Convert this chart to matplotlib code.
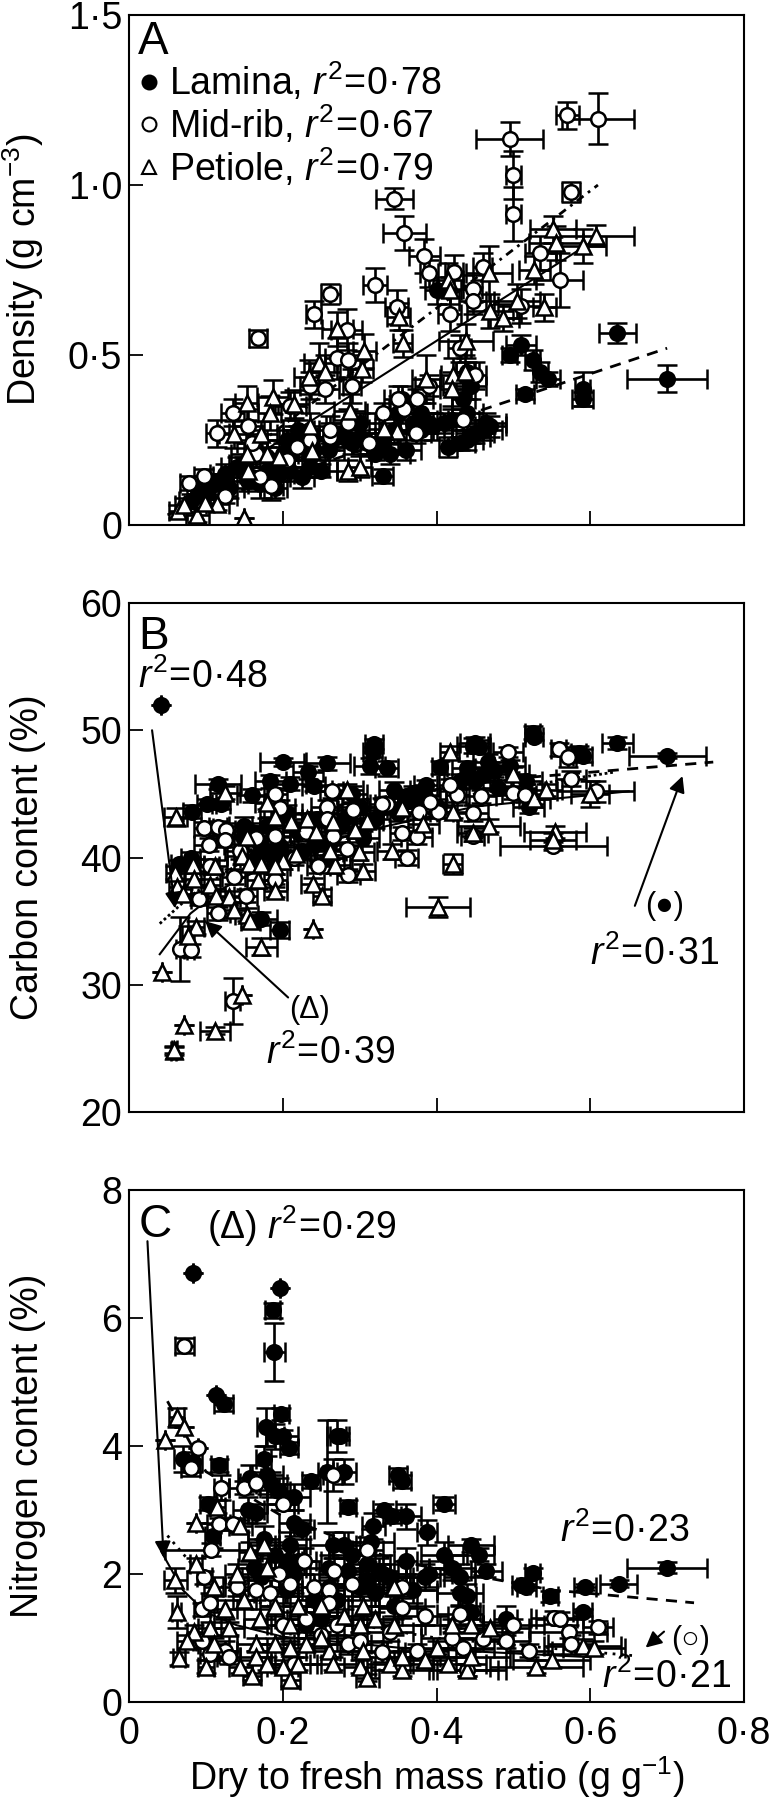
import matplotlib
matplotlib.use('Agg')
import matplotlib.pyplot as plt

plt.rcParams['font.family'] = ['Liberation Sans', 'DejaVu Sans']
plt.rcParams['mathtext.fontset'] = 'custom'
plt.rcParams['mathtext.rm'] = 'Liberation Sans'
plt.rcParams['mathtext.it'] = 'Liberation Sans:italic'

# panel A
a_lam_x = [.700,.635,.590,.590,.545,.535,.525,.510,.495,.515,
           .330,.080,.090,.100,.110,.120,.125,.140,.150,.155,
           .170,.180,.190,.195,.210,.225,.235,.250,.205,.215,
           .220,.235,.270,.280,.290,.300,.320,.340,.360,.345,
           .350,.355,.380,.390,.395,.410,.420,.415,.430,.440,
           .445,.450,.460,.465,.470,.440,.435,.445,.440,.400,
           .130,.160,.180,.200,.220,.240,.260,.300,.310,.330,
           .370,.380]
a_lam_y = [.43,.565,.40,.37,.43,.45,.485,.53,.50,.385,
           .145,.07,.09,.10,.12,.13,.15,.17,.18,.13,
           .12,.16,.11,.15,.16,.14,.17,.16,.25,.25,
           .26,.20,.26,.27,.24,.26,.21,.21,.22,.28,
           .33,.37,.33,.30,.29,.30,.31,.23,.24,.25,
           .26,.27,.28,.30,.29,.33,.37,.41,.45,.69,
           .11,.14,.20,.21,.28,.22,.22,.30,.24,.24,
           .30,.28]
a_lam_xe = [.052,.024,.010,.014,.015,.010,.010,.020,.010,.012,
            .014,.015,.015,.020,.020,.015,.020,.020,.020,.020,
            .015,.025,.015,.020,.020,.015,.025,.020,.025,.020,
            .020,.020,.025,.020,.025,.020,.020,.025,.020,.020,
            .020,.015,.025,.020,.025,.025,.020,.012,.020,.020,
            .025,.025,.025,.025,.020,.020,.015,.020,.015,.015,
            .020,.020,.020,.020,.020,.020,.020,.020,.020,.020,
            .020,.020]
a_lam_ye = [.04,.03,.05,.02,.02,.03,.03,.03,.02,.015,
            .02,.02,.02,.02,.03,.02,.03,.03,.02,.03,
            .04,.03,.03,.02,.03,.03,.03,.02,.03,.04,
            .03,.03,.03,.04,.03,.02,.02,.03,.03,.04,
            .05,.04,.03,.03,.04,.03,.03,.03,.02,.03,
            .02,.03,.03,.03,.03,.04,.05,.04,.03,.04,
            .03,.03,.03,.03,.03,.03,.03,.03,.03,.03,
            .03,.03]

a_mid_x = [.610,.570,.495,.500,.500,.575,.345,.358,.384,.390,
           .320,.262,.240,.168,.535,.560,.510,.460,.423,.447,
           .447,.417,.348,.283,.270,.285,.290,.255,.235,.135,
           .115,.078,.097,.125,.185,.170,.205,.218,.235,.262,
           .262,.165,.155,.330,.358,.350,.375,.390,.312,.373,
           .435,.430,.450,.285,.160,.210]
a_mid_y = [1.195,1.205,1.135,1.03,.915,.98,.96,.86,.79,.74,
           .705,.68,.62,.55,.80,.72,.645,.76,.745,.695,
           .66,.62,.64,.575,.49,.485,.41,.40,.41,.33,
           .27,.124,.145,.085,.115,.14,.19,.23,.25,.26,
           .28,.21,.29,.33,.34,.37,.37,.41,.24,.27,
           .31,.52,.44,.30,.24,.35]
a_mid_xe = [.047,.015,.043,.010,.010,.012,.024,.028,.020,.012,
            .015,.012,.010,.012,.020,.030,.030,.012,.012,.012,
            .018,.015,.015,.020,.015,.015,.012,.018,.012,.015,
            .015,.012,.012,.015,.015,.015,.020,.020,.018,.015,
            .015,.015,.020,.020,.020,.018,.020,.018,.015,.020,
            .020,.015,.015,.020,.020,.020]
a_mid_ye = [.075,.04,.05,.07,.08,.03,.03,.05,.05,.04,
            .05,.03,.04,.025,.05,.08,.05,.04,.05,.04,
            .04,.05,.05,.06,.06,.05,.05,.04,.04,.04,
            .04,.02,.02,.02,.04,.03,.03,.04,.03,.04,
            .04,.04,.05,.03,.03,.04,.03,.03,.03,.03,
            .03,.04,.04,.04,.04,.04]

a_pet_x = [.607,.590,.552,.555,.527,.540,.505,.487,.470,.468,
           .415,.417,.438,.351,.356,.271,.306,.247,.255,.234,
           .303,.187,.153,.214,.183,.287,.137,.172,.238,.180,
           .195,.285,.300,.155,.115,.089,.064,.072,.099,.149,
           .386,.421,.437,.420,.348,.332,.236,.153]
a_pet_y = [.851,.82,.87,.83,.75,.64,.66,.61,.63,.74,
           .72,.69,.54,.613,.534,.576,.513,.476,.45,.435,
           .46,.377,.358,.356,.33,.335,.267,.267,.217,.21,
           .20,.16,.172,.16,.063,.03,.04,.058,.066,.02,
           .43,.44,.45,.40,.277,.283,.29,.21]
a_pet_xe = [.050,.030,.030,.035,.020,.015,.030,.020,.030,.030,
            .020,.015,.035,.015,.012,.020,.015,.020,.020,.020,
            .015,.020,.015,.020,.015,.020,.020,.020,.020,.020,
            .020,.015,.015,.020,.015,.015,.012,.012,.012,0,
            .018,.015,.012,.015,.020,.020,.020,.020]
a_pet_ye = [.03,.05,.04,.05,.04,.04,.05,.04,.05,.08,
            .05,.04,.05,.04,.04,.05,.05,.06,.05,.05,
            .04,.05,.05,.04,.05,.05,.04,.04,.04,.04,
            .03,.03,.03,.03,.02,.02,.02,.02,.02,0,
            .07,.05,.05,.05,.04,.03,.04,.04]

# panel B
b_lam_x = [.700,.635,.590,.585,.525,.527,.042,.065,.080,.082,
           .101,.116,.120,.160,.184,.200,.210,.233,.240,.257,
           .319,.317,.313,.335,.345,.360,.370,.385,.386,.404,
           .447,.450,.455,.467,.470,.475,.440,.450,.495,.517,
           .520,.172,.196,.160,.170,.180,.190,.150,.220,.240,
           .260,.300,.280,.320,
           .150,.165,.180,.195,.205,.225,.245,.260,.275,.290,
           .305,.330,.350,.370,.400,.430,.460,.480]
b_lam_y = [48,49,48,48.2,49.8,49.5,52,39.5,40,43.6,
           44.2,45.8,44.2,44.9,46,47.5,45.8,46.7,45.6,47.4,
           48.9,48.3,47.2,47,45.3,44.8,45.1,44.8,45.7,47.1,
           48.8,49,48.7,47.5,47,46.8,47,46,47.2,46,
           44,35.2,34.3,42,41,40.5,40,42.5,42,41,
           41,44,43,43,
           41.5,40,42.5,41,43.5,40.5,43,40,42.5,45,
           41.5,44,43.5,44.5,44,46,46.5,45.5]
b_lam_xe = [.050,.020,.012,.010,.010,.012,0,.010,.012,.012,
            .012,.030,.012,.020,.020,.030,.020,.020,.015,.030,
            .012,.012,.020,.015,.020,.015,.020,.020,.015,.010,
            .020,.020,.015,.020,.020,.015,.020,.020,.020,.020,
            .020,.020,.012,.020,.020,.025,.020,.020,.020,.020,
            .025,.030,.025,.020,
            .020,.020,.020,.020,.020,.020,.020,.020,.020,.020,
            .020,.020,.020,.020,.020,.020,.020,.020]
b_lam_ye = [.2,.5,.5,.6,.5,.3,0,.3,.4,.5,
            .4,.4,.4,.5,.5,.3,.5,.5,.4,.5,
            .4,.4,.6,.6,.6,.5,.5,.5,.4,.5,
            .6,.5,.5,.6,.5,.5,.6,.5,.5,.5,
            .5,.5,.6,.7,.7,.8,.8,.7,.7,.8,
            .8,.6,.7,.7,
            .6,.6,.6,.6,.6,.6,.6,.6,.6,.6,
            .6,.6,.6,.6,.6,.6,.6,.6]

b_mid_x = [.607,.575,.559,.571,.493,.500,.515,.552,.447,.458,
           .447,.427,.418,.402,.392,.377,.374,.355,.361,.335,
           .329,.292,.266,.283,.285,.264,.257,.257,.246,.190,
           .196,.190,.190,.097,.116,.126,.104,.105,.136,.125,
           .091,.116,.152,.066,.080,.135,.145,.165,.215,.230]
b_mid_y = [45.2,46.2,48.5,47.9,48.3,45.1,44.9,40.9,41.7,44.8,
           43.5,44.9,45.7,43.6,44.4,43.6,41.6,41.9,40,44.2,
           44.2,43.7,41.7,40.7,38.6,45.2,44,43,39.3,45,
           43.9,41.7,38.2,42.3,42.4,42.2,41,39.3,38.5,41.4,
           36.7,35.6,37,32.8,32.7,28.7,40.5,41.5,40,42]
b_mid_xe = [.050,.020,.010,.010,.020,.015,.015,.070,.015,.020,
            .020,.015,.015,.020,.020,.015,.020,.015,.015,.015,
            .015,.020,.020,.020,.015,.015,.020,.020,.015,.015,
            .020,.020,.015,.012,.012,.012,.020,.012,.015,.012,
            .010,.015,.015,.005,.005,.010,.020,.020,.020,.020]
b_mid_ye = [.8,.6,.5,.8,.4,.5,.5,.3,.4,.5,
            .6,.5,.5,.5,.5,.6,.5,.5,.6,.5,
            .5,.6,.6,.5,.5,.5,.5,.5,.5,.5,
            .6,.6,.5,.5,.5,.5,.5,.6,.6,.6,
            .4,.5,.5,2.5,.5,1.8,.6,.5,.6,.5]

b_pet_x = [.600,.554,.552,.468,.447,.527,.543,.500,.417,.421,
           .402,.421,.383,.355,.342,.284,.310,.266,.294,.232,
           .243,.268,.305,.299,.262,.217,.200,.239,.251,.239,
           .179,.190,.211,.125,.061,.083,.060,.062,.070,.085,
           .112,.106,.113,.130,.137,.153,.158,.168,.190,.172,
           .147,.153,.156,.172,.190,.087,.077,.043,.147,.072,
           .112,.058,.059]
b_pet_y = [45,42,41.4,42.5,41.9,44.6,45.3,46.6,48.3,39.5,
           36.1,43.6,42.6,43.9,40.5,45.3,42.9,42.8,42.2,43,
           42,39.4,38.9,40.4,40.5,40.3,39.7,37.9,37,34.4,
           44.3,43.2,42.8,45.1,43.2,39.4,38.8,37.7,37.1,38.3,
           39.3,37.8,37,36.9,35.9,35.5,35,38.2,37.4,33,
           40.1,41.6,39.5,39.5,39.3,34.5,33.8,31,29.2,26.8,
           26.4,24.8,24.9]
b_pet_xe = [.025,.040,.030,.040,.020,.020,.020,.020,.012,.012,
            .042,.020,.020,.020,.020,.020,.020,.025,.020,.020,
            .020,.020,.015,.020,.020,.020,.020,.015,.012,0,
            .015,.020,.020,.020,.015,.015,.012,.010,.010,.012,
            .015,.012,.012,.015,.015,.015,.012,.015,.015,.020,
            .020,.020,.020,.020,.020,.010,.008,0,0,0,
            .020,.003,.003]
b_pet_ye = [1,.5,.5,.5,.4,.4,.5,.5,.5,.8,
            .8,.5,.5,.5,.6,.5,.5,.6,.5,.5,
            .5,.6,.6,.6,.6,.5,.6,.5,.5,0,
            .5,.5,.6,.5,.7,.5,.5,.5,.4,.5,
            .5,.5,.5,.5,.6,.5,.5,.6,.5,.7,
            .6,.6,.6,.6,.6,.5,.8,0,0,0,
            .3,.3,.3]

# panel C
c_lam_x = [.700,.637,.593,.590,.548,.525,.517,.510,.410,.387,
           .350,.355,.360,.332,.342,.318,.285,.274,.270,.280,
           .258,.237,.208,.198,.196,.187,.189,.083,.113,.123,
           .070,.083,.117,.103,.109,.178,.190,.200,.175,.157,
           .180,.185,.195,.215,.155,.165,.215,.225,.175,.210,
           .265,.280,.190,.205,.162,.172,.215,.285,.310,.330,
           .360,.385,.410,.420,.430,.440,.445,.455,.465,.445,
           .490,.310,.325,.260,.205,
           .220,.240,.260,.270,.300,.320,.340,.370,.390,.430,
           .250,.230,.290,.315,.345]
c_lam_y = [2.1,1.85,1.8,1.4,1.65,2.02,1.8,1.83,3.1,2.65,
           3.55,3.45,2.9,3.0,2.9,2.75,3.05,4.15,4.15,3.6,
           3.6,3.45,3.97,4.5,6.47,6.12,5.47,6.7,4.8,4.65,
           3.8,3.75,3.7,3.1,2.6,4.3,4.15,4.15,3.8,3.5,
           3.55,3.4,3.3,3.2,3.0,2.95,2.8,2.7,2.55,2.45,
           2.45,2.45,2.3,2.2,2.1,1.95,2.0,2.05,2.15,2.0,
           2.2,1.95,2.3,2.1,1.95,1.65,2.45,2.3,2.05,1.4,
           1.3,1.9,2.05,1.8,1.75,
           2.2,1.6,2.1,1.6,1.8,1.7,1.95,1.75,2.0,1.7,
           1.3,1.2,2.3,2.5,1.5]
c_lam_xe = [.052,.024,.014,.012,.010,.010,.012,.012,.014,.013,
            .012,.012,.020,.015,.012,.015,.010,.012,.012,.015,
            .012,.012,.012,.010,0,.010,.014,0,0,.012,
            .012,.012,.010,.010,.010,.012,.012,.020,.010,.015,
            .020,.020,.015,.020,.020,.015,.020,.015,.020,.020,
            .030,.020,.020,.020,.020,.025,.020,.020,.030,.030,
            .015,.020,.030,.030,.020,.012,.030,.020,.020,.012,
            .015,.020,.025,.020,.020,
            .030,.020,.030,.020,.030,.030,.030,.030,.030,.030,
            .020,.020,.030,.030,.030]
c_lam_ye = [.08,.05,.05,.06,.08,.08,.05,.04,.10,.20,
            .10,.10,.20,.10,.10,.20,.10,.05,.25,.20,
            .80,.10,.10,.10,0,.12,.45,0,0,.10,
            .20,.15,.10,.10,.20,.30,.20,.10,.20,.20,
            .30,.20,.20,.20,.20,.15,.20,.15,.20,.20,
            .20,.20,.20,.20,.20,.20,.30,.20,.20,.30,
            .20,.20,.20,.20,.20,.20,.10,.10,.10,.10,
            .20,.20,.20,.20,.20,
            .20,.20,.20,.20,.20,.20,.20,.20,.20,.20,
            .20,.20,.20,.20,.20]

c_mid_x = [.072,.090,.080,.120,.150,.165,.265,.200,.117,.135,
           .107,.310,.228,.267,.195,.098,.210,.140,.165,.183,
           .240,.260,.290,.355,.260,.355,.385,.430,.500,.553,
           .560,.610,.572,.575,.490,.460,.420,.520,.440,.435,
           .095,.105,.095,.105,.125,.130,.200,.230,.250,.270,
           .285,.300,.329,.375,.215,.340]
c_mid_y = [5.57,3.97,3.65,3.35,3.35,3.42,3.55,3.1,2.78,2.78,
           2.38,2.38,2.2,2.05,2.0,1.95,1.85,1.8,1.75,1.7,
           1.8,1.75,1.85,1.8,1.55,1.47,1.35,1.37,1.2,1.32,
           1.3,1.17,1.1,.9,.95,.98,1.0,.8,.5,.85,
           1.45,1.55,.95,.75,.8,.7,1.2,1.3,1.05,1.2,
           .9,.95,.78,.8,.6,1.1]
c_mid_xe = [.012,0,.012,.010,.020,.020,.012,.020,.015,.015,
            .060,.020,.015,.020,.020,.010,.015,.015,.020,.020,
            .020,.020,.025,.020,.020,.030,.030,.030,.040,.030,
            .030,.020,.050,.030,.030,.040,.040,.030,.050,.040,
            .010,.010,.012,.012,.015,.015,.020,.025,.020,.020,
            .030,.030,.030,.040,.030,.030]
c_mid_ye = [.12,0,.12,.20,.10,.10,.25,.10,.10,.10,
            .10,.20,.20,.20,.20,.10,.20,.15,.15,.20,
            .20,.20,.20,.15,.20,.15,.15,.15,.10,.10,
            .10,.10,.10,.15,.10,.15,.15,.10,.10,.15,
            .10,.15,.10,.10,.15,.10,.20,.20,.20,.15,
            .15,.15,.15,.10,.10,.15]

c_pet_x = [.062,.072,.047,.087,.115,.145,.175,.158,.087,.060,
           .062,.140,.180,.110,.150,.190,.220,.250,.305,.345,
           .125,.170,.085,.105,.130,.075,.065,.110,.100,.145,
           .160,.165,.165,.190,.180,.200,.210,.210,.220,.230,
           .210,.260,.265,.300,.310,.305,.340,.355,.345,.355,
           .385,.400,.415,.420,.440,.445,.445,.470,.530,.550,
           .590,.605,.300,.320,.250,.280]
c_pet_y = [4.45,4.3,4.1,2.8,3.05,2.75,2.45,2.35,2.15,1.9,
           1.4,2.0,2.1,1.8,1.6,1.5,1.5,1.5,1.5,1.8,
           1.45,1.3,1.1,1.15,1.15,.95,.68,.9,.55,.55,
           .4,.9,.7,.9,.6,.55,.35,.85,.6,.9,
           1.2,.8,.6,.55,.38,.8,.6,.5,1.2,.7,
           .65,.85,.6,1.2,.5,1.2,.7,1.15,.55,.65,
           .88,.85,1.2,1.3,1.0,1.35]
c_pet_xe = [.010,0,0,0,.010,.015,.020,.015,.008,.015,
            .006,.015,.020,.012,.015,.020,.020,.020,.020,.020,
            .015,.020,.010,.015,.020,.012,.008,.020,.010,.015,
            .012,.025,.020,.025,.020,.020,.012,.030,.030,.030,
            .025,.030,.030,.020,.015,.030,.030,.040,.040,.050,
            .040,.050,.050,.040,.040,.040,.050,.050,.060,.050,
            .050,.040,.030,.030,.030,.030]
c_pet_ye = [.15,0,0,0,.10,.10,.10,.15,.10,.20,
            .25,.15,.15,.15,.15,.15,.15,.15,.15,.15,
            .15,.15,.10,.10,.10,.10,.10,.10,.10,.10,
            .05,.10,.10,.10,.10,.10,.10,.10,.10,.10,
            .10,.10,.10,.10,.05,.10,.10,.10,.15,.10,
            .10,.10,.10,.10,.10,.10,.10,.10,.10,.10,
            .10,.10,.10,.10,.10,.10]

# fitted lines
a_fit_lam_x = [.05,.70]
a_fit_lam_y = [.03,.52]
a_fit_mid_x = [.10,.61]
a_fit_mid_y = [.12,1.00]
a_fit_pet_x = [.08,.60]
a_fit_pet_y = [.08,.83]
b_fit_lam_x = [.10,.30,.50,.76]
b_fit_lam_y = [41.5,44.5,46.2,47.5]
b_fit_mid_x = [.04,.08,.15,.30,.45,.63]
b_fit_mid_y = [34.8,37,39.8,43,45,46.7]
b_fit_pet_x = [.04,.08,.12,.20,.30,.45,.65]
b_fit_pet_y = [32.4,35.6,37.5,40,42,44,45.2]
c_fit_lam_x = [.05,.10,.20,.35,.55,.735]
c_fit_lam_y = [4.7,3.6,2.9,2.2,1.75,1.55]
c_fit_mid_x = [.05,.10,.20,.40,.66]
c_fit_mid_y = [2.6,1.9,1.4,1.0,.72]
c_fit_pet_x = [.042,.07,.10,.14,.20,.35,.60]
c_fit_pet_y = [2.35,1.75,1.4,1.2,1.02,.85,.70]

xticks = [0,.2,.4,.6,.8]
xticklabels = ['0','0·2','0·4','0·6','0·8']
a_ticks = [0,.5,1,1.5]
a_ticklabels = ['0','0·5','1·0','1·5']
b_ticks = [20,30,40,50,60]
c_ticks = [0,2,4,6,8]

W, H = 769, 1800
fs = 27

def r2(v):
    return r'$\mathit{r}^{2}\!=\!$' + v

def draw(ax, x, y, xe, ye, marker, face):
    ms = 11.5 if marker == '^' else 10.5
    ax.errorbar(x, y, xerr=xe, yerr=ye, fmt=marker, ms=ms, mfc=face, mec='k', mew=1.8,
                ecolor='k', elinewidth=1.9, capsize=7, capthick=1.9)

def panel(top, bottom, ylim, yticks, yticklabels, ylabel):
    ax = fig.add_axes([129/W, 1-bottom/H, (744-129)/W, (bottom-top)/H])
    ax.set_xlim(0,.8)
    ax.set_ylim(*ylim)
    ax.set_xticks(xticks)
    ax.set_xticklabels([])
    ax.set_yticks(yticks)
    ax.set_yticklabels(yticklabels, fontsize=fs)
    ax.tick_params(direction='in', length=10, width=1.3, pad=5)
    for s in ax.spines.values():
        s.set_linewidth(1.5)
    ax.set_ylabel(ylabel, fontsize=fs)
    ax.yaxis.set_label_coords(-0.135, .5)
    return ax

def arrow(ax, start, end):
    ax.annotate('', xy=end, xytext=start,
                arrowprops=dict(arrowstyle='-|>', color='k', lw=1.5, mutation_scale=24, shrinkA=0, shrinkB=0))

fig = plt.figure(figsize=(W/100, H/100), dpi=100)

# A
ax = panel(15, 525, (0,1.5), a_ticks, a_ticklabels, 'Density (g cm$^{-3}$)')
ax.plot(a_fit_lam_x, a_fit_lam_y, color='k', lw=2, ls=(0,(4,3)), zorder=1)
draw(ax, a_lam_x, a_lam_y, a_lam_xe, a_lam_ye, 'o', 'k')
draw(ax, a_mid_x, a_mid_y, a_mid_xe, a_mid_ye, 'o', 'w')
draw(ax, a_pet_x, a_pet_y, a_pet_xe, a_pet_ye, '^', 'w')
ax.plot(a_fit_mid_x, a_fit_mid_y, color='k', lw=2, ls=(0,(3,2,1,2)))
ax.plot(a_fit_pet_x, a_fit_pet_y, color='k', lw=1.5)
ax.text(.012, 1.42, 'A', fontsize=33, va='center')
for yy, m, f, lab in [(1.304,'o','k','Lamina, '+r2('0·78')),
                      (1.178,'o','w','Mid-rib, '+r2('0·67')),
                      (1.052,'^','w','Petiole, '+r2('0·79'))]:
    ax.plot([.0255], [yy], m, ms=10, mfc=f, mec='k', mew=1.5)
    ax.text(.052, yy, lab, fontsize=fs, va='center')

# B
ax = panel(603, 1112, (20,60), b_ticks, [str(t) for t in b_ticks], 'Carbon content (%)')
ax.plot(b_fit_lam_x, b_fit_lam_y, color='k', lw=2, ls=(0,(4,3)), zorder=1)
draw(ax, b_lam_x, b_lam_y, b_lam_xe, b_lam_ye, 'o', 'k')
draw(ax, b_mid_x, b_mid_y, b_mid_xe, b_mid_ye, 'o', 'w')
draw(ax, b_pet_x, b_pet_y, b_pet_xe, b_pet_ye, '^', 'w')
ax.plot(b_fit_mid_x, b_fit_mid_y, color='k', lw=2, ls=(0,(1,1)))
ax.plot(b_fit_pet_x, b_fit_pet_y, color='k', lw=1.5)
arrow(ax, (.03,50), (.06,36))
arrow(ax, (.207,29), (.099,35))
arrow(ax, (.658,36.2), (.72,46.4))
ax.text(.012, 57.3, 'B', fontsize=33, va='center')
ax.text(.012, 54.2, r2('0·48'), fontsize=fs, va='center')
ax.text(.208, 28, '(Δ)', fontsize=22, va='center')
ax.text(.178, 24.6, r2('0·39'), fontsize=fs, va='center')
ax.text(.672, 36.2, '(●)', fontsize=22, va='center')
ax.text(.60, 32.4, r2('0·31'), fontsize=fs, va='center')

# C
ax = panel(1190, 1702, (0,8), c_ticks, [str(t) for t in c_ticks], 'Nitrogen content (%)')
ax.plot(c_fit_lam_x, c_fit_lam_y, color='k', lw=2, ls=(0,(4,3)), zorder=1)
draw(ax, c_lam_x, c_lam_y, c_lam_xe, c_lam_ye, 'o', 'k')
draw(ax, c_mid_x, c_mid_y, c_mid_xe, c_mid_ye, 'o', 'w')
draw(ax, c_pet_x, c_pet_y, c_pet_xe, c_pet_ye, '^', 'w')
ax.plot(c_fit_mid_x, c_fit_mid_y, color='k', lw=2, ls=(0,(1,2)))
ax.plot(c_fit_pet_x, c_fit_pet_y, color='k', lw=1.5)
arrow(ax, (.024,7.2), (.045,2.26))
arrow(ax, (.696,1.1), (.672,.85))
ax.text(.012, 7.45, 'C', fontsize=33, va='center')
ax.text(.102, 7.43, '(Δ) ' + r2('0·29'), fontsize=fs, va='center')
ax.text(.56, 2.67, r2('0·23'), fontsize=fs, va='center')
ax.text(.705, .97, '(○)', fontsize=22, va='center')
ax.text(.615, .38, r2('0·21'), fontsize=fs, va='center')
ax.set_xticklabels(xticklabels, fontsize=fs)
ax.tick_params(axis='x', pad=10)
ax.set_xlabel('Dry to fresh mass ratio (g g$^{-1}$)', fontsize=fs, labelpad=2)

fig.savefig('out.png', dpi=100)
